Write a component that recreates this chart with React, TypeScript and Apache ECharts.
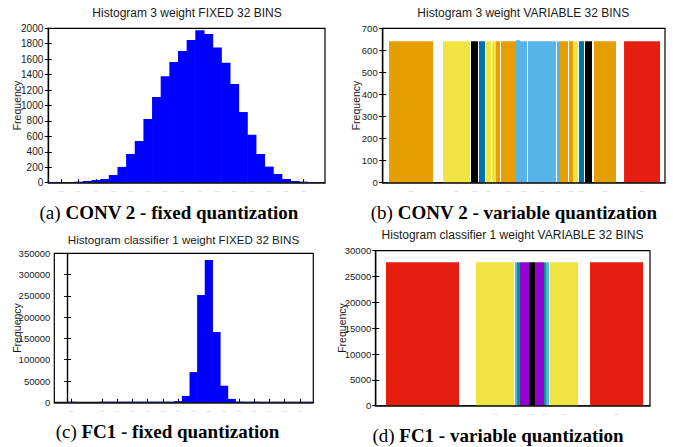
import React, { useEffect, useRef } from 'react';
import * as echarts from 'echarts';

// ---------- data ----------
// (a) CONV 2 - fixed quantization: 32 equal-width bins (bin index k spans [k, k+1])
const conv2FixedFreq = [
  10, 3, 2, 13, 22, 35, 48, 100, 205, 372,
  540, 825, 1110, 1380, 1565, 1705, 1850, 1975, 1925, 1750,
  1555, 1280, 915, 620, 372, 208, 113, 48, 22, 13,
  9, 4,
];

// (b) CONV 2 - variable quantization: bin edges (weight axis, arbitrary units 0..100)
const conv2VarLow = [2.23, 21.36, 31.28, 34.11, 36.59, 38.72, 40.13, 41.91, 47.22, 48.64, 51.47, 61.74, 62.8, 65.99, 67.41, 69.54, 71.67, 74.86, 85.49];
const conv2VarHigh = [17.82, 30.92, 33.76, 36.24, 38.36, 40.13, 41.55, 47.22, 48.64, 51.12, 61.39, 62.8, 65.64, 67.41, 69.18, 71.31, 74.15, 82.65, 98.24];
const conv2VarFreq = [641, 641, 641, 641, 641, 641, 641, 641, 646, 641, 641, 641, 641, 641, 641, 641, 641, 641, 641];
const conv2VarColor = ['orange', 'yellow', 'black', 'dkblue', 'yellow', 'yellow', 'orange', 'orange', 'ltblue', 'ltblue', 'ltblue', 'ltblue', 'orange', 'orange', 'yellow', 'dkblue', 'black', 'orange', 'red'];

// (c) FC1 - fixed quantization: 32 equal-width bins
const fc1FixedFreq = [
  1200, 0, 0, 0, 1200, 1200, 1200, 1200, 1200, 1200,
  1200, 1200, 1200, 1200, 3000, 15000, 71000, 252000, 334000, 165000,
  39000, 8000, 1500, 1000, 1000, 1000, 1000, 1000, 1000, 1000,
  1000, 1000,
];

// (d) FC1 - variable quantization
const fc1VarLow = [3.75, 36.57, 50.78, 51.51, 52.61, 55.89, 58.08, 61.36, 62.09, 63.56, 78.14];
const fc1VarHigh = [30.37, 50.42, 51.51, 52.61, 55.89, 58.08, 61.36, 62.09, 63.19, 73.77, 97.45];
const fc1VarFreq = [27750, 27750, 27750, 27750, 27750, 27750, 27750, 27750, 27750, 27750, 27750];
const fc1VarColor = ['red', 'yellow', 'ltblue', 'teal', 'purple', 'black', 'purple', 'teal', 'ltblue', 'yellow', 'red'];

const titles = [
  'Histogram 3 weight FIXED 32 BINS',
  'Histogram 3 weight VARIABLE 32 BINS',
  'Histogram classifier 1 weight FIXED 32 BINS',
  'Histogram classifier 1 weight VARIABLE 32 BINS',
];
const captionTags = ['(a)', '(b)', '(c)', '(d)'];
const captionTexts = [
  'CONV 2 - fixed quantization',
  'CONV 2 - variable quantization',
  'FC1 - fixed quantization',
  'FC1 - variable quantization',
];

const PALETTE: Record<string, string> = {
  orange: '#e69f00',
  yellow: '#f0e442',
  black: '#000000',
  dkblue: '#0072b2',
  ltblue: '#56b4e9',
  red: '#e51e10',
  purple: '#9400d3',
  teal: '#009e73',
  blue: '#0000ff',
};

const SANS = '"Liberation Sans", Arial, Helvetica, sans-serif';
const SERIF = '"Liberation Serif", "Times New Roman", serif';

// ---------- layout ----------
const GRIDS = [
  { left: 48.3, top: 28.3, width: 276.7, height: 154.4 },
  { left: 382.7, top: 28.3, width: 282.3, height: 154.4 },
  { left: 54.3, top: 253.3, width: 259, height: 149 },
  { left: 375.7, top: 250.7, width: 274.3, height: 155 },
];
const X_RANGE = [
  [0, 32],
  [0, 100],
  [-1.75, 32.25],
  [0, 100],
];
const Y_RANGE = [
  [0, 2000, 200],
  [0, 700, 100],
  [0, 350000, 50000],
  [0, 30000, 5000],
];
const Y_FONT = [10, 9.5, 9.5, 9.5];
const Y_MARGIN = [5, 5, 4, 4.5];
const TITLE_POS = [
  [187, 13.3, 12],
  [523.3, 13.3, 12],
  [183.5, 239.3, 11.6],
  [512.5, 235, 12],
];
const FREQ_POS = [
  [17, 105.5],
  [356, 105.5],
  [16.5, 328],
  [342, 328],
];
const CAPTION_POS = [
  [169, 212],
  [514, 212],
  [167.5, 431],
  [498, 435],
];

function buildHist(
  g: number,
  lows: number[],
  highs: number[],
  freqs: number[],
  colors: string[],
  seam: boolean
) {
  return {
    type: 'custom',
    xAxisIndex: 2 * g,
    yAxisIndex: 2 * g,
    z: 2,
    data: freqs.map((f, i) => [lows[i], highs[i], f]),
    encode: { x: [0, 1], y: 2 },
    renderItem: (params: any, api: any) => {
      const a = api.coord([api.value(0), api.value(2)]);
      const b = api.coord([api.value(1), 0]);
      const fill = PALETTE[colors[params.dataIndex]];
      const w = b[0] - a[0] + (seam ? 0.6 : 0);
      return {
        type: 'rect',
        shape: { x: a[0], y: a[1], width: w, height: b[1] - a[1] },
        style: { fill },
      };
    },
  };
}

export default function App() {
  const ref = useRef<HTMLDivElement>(null);

  useEffect(() => {
    if (!ref.current) return;
    const chart = echarts.init(ref.current, undefined, { renderer: 'svg' });

    const binIdx = conv2FixedFreq.map((_, k) => k);
    const binIdxHi = conv2FixedFreq.map((_, k) => k + 1);
    const fc1Idx = fc1FixedFreq.map((_, k) => k);
    const fc1IdxHi = fc1FixedFreq.map((_, k) => k + 1);

    const tickValues = [
      binIdx.map((k) => k + 0.5),
      conv2VarLow.map((l, i) => (l + conv2VarHigh[i]) / 2),
      fc1Idx.filter((k) => fc1FixedFreq[k] > 0).map((k) => k + 0.5),
      fc1VarLow.map((l, i) => (l + fc1VarHigh[i]) / 2),
    ];
    const showTicks = [true, false, true, false];

    const xAxis: any[] = [];
    const yAxis: any[] = [];
    for (let g = 0; g < 4; g++) {
      xAxis.push({
        type: 'value',
        gridIndex: g,
        position: 'bottom',
        min: X_RANGE[g][0],
        max: X_RANGE[g][1],
        splitLine: { show: false },
        axisLine: { show: false },
        axisTick: {
          show: showTicks[g],
          inside: true,
          length: 3.5,
          customValues: tickValues[g],
          lineStyle: { color: '#000', width: 1 },
        },
        axisLabel: {
          show: true,
          customValues: tickValues[g],
          formatter: () => '–',
          color: '#cfcfcf',
          fontSize: 8,
          margin: 4,
          fontFamily: SANS,
          hideOverlap: true,
        },
      });
      xAxis.push({
        type: 'value',
        gridIndex: g,
        position: 'bottom',
        min: X_RANGE[g][0],
        max: X_RANGE[g][1],
        z: 3,
        splitLine: { show: false },
        axisLine: { show: true, lineStyle: { color: '#1a1a1a', width: 1.5 } },
        axisTick: { show: false },
        axisLabel: { show: false },
      });
      yAxis.push({
        type: 'value',
        gridIndex: g,
        position: 'left',
        min: Y_RANGE[g][0],
        max: Y_RANGE[g][1],
        interval: Y_RANGE[g][2],
        splitLine: { show: false },
        axisLine: { show: true, lineStyle: { color: '#000', width: 1.2 } },
        axisTick: { show: true, inside: true, length: 3.5, lineStyle: { color: '#000' } },
        axisLabel: {
          color: '#1a1a1a',
          fontSize: Y_FONT[g],
          fontFamily: SANS,
          margin: Y_MARGIN[g],
          formatter: (v: number) => String(v),
        },
      });
      yAxis.push({
        type: 'value',
        gridIndex: g,
        position: 'right',
        min: Y_RANGE[g][0],
        max: Y_RANGE[g][1],
        interval: Y_RANGE[g][2],
        splitLine: { show: false },
        axisLine: { show: true, lineStyle: { color: '#000', width: 1.2 } },
        axisTick: { show: true, inside: true, length: 3.5, lineStyle: { color: '#000' } },
        axisLabel: { show: false },
      });
    }

    const blueColors = (n: number) => new Array(n).fill('blue');

    const series = [
      buildHist(0, binIdx, binIdxHi, conv2FixedFreq, blueColors(conv2FixedFreq.length), true),
      buildHist(1, conv2VarLow, conv2VarHigh, conv2VarFreq, conv2VarColor, false),
      buildHist(2, fc1Idx, fc1IdxHi, fc1FixedFreq, blueColors(fc1FixedFreq.length), true),
      buildHist(3, fc1VarLow, fc1VarHigh, fc1VarFreq, fc1VarColor, false),
    ];

    const graphic: any[] = [];
    for (let g = 0; g < 4; g++) {
      graphic.push({
        type: 'text',
        x: TITLE_POS[g][0],
        y: TITLE_POS[g][1],
        style: {
          text: titles[g],
          font: `${TITLE_POS[g][2]}px ${SANS}`,
          fill: '#1a1a1a',
          align: 'center',
          verticalAlign: 'middle',
        },
      });
      graphic.push({
        type: 'text',
        x: FREQ_POS[g][0],
        y: FREQ_POS[g][1],
        rotation: Math.PI / 2,
        style: {
          text: 'Frequency',
          font: `10.5px ${SANS}`,
          fill: '#1a1a1a',
          align: 'center',
          verticalAlign: 'middle',
        },
      });
      graphic.push({
        type: 'text',
        x: CAPTION_POS[g][0],
        y: CAPTION_POS[g][1],
        style: {
          text: `{r|${captionTags[g]}} {b|${captionTexts[g]}}`,
          font: `19px ${SERIF}`,
          fill: '#000',
          align: 'center',
          verticalAlign: 'middle',
          rich: {
            r: { font: `19px ${SERIF}`, fill: '#000' },
            b: { font: `bold 19px ${SERIF}`, fill: '#000' },
          },
        },
      });
    }

    chart.setOption({
      animation: false,
      backgroundColor: '#ffffff',
      grid: GRIDS.map((gr) => ({
        ...gr,
        show: true,
        borderColor: '#000',
        borderWidth: 1.2,
        backgroundColor: 'transparent',
      })),
      xAxis,
      yAxis,
      series,
      graphic,
    });

    return () => chart.dispose();
  }, []);

  return (
    <div
      ref={ref}
      style={{ position: 'fixed', left: 0, top: 0, width: 673, height: 447, background: '#fff' }}
    />
  );
}
